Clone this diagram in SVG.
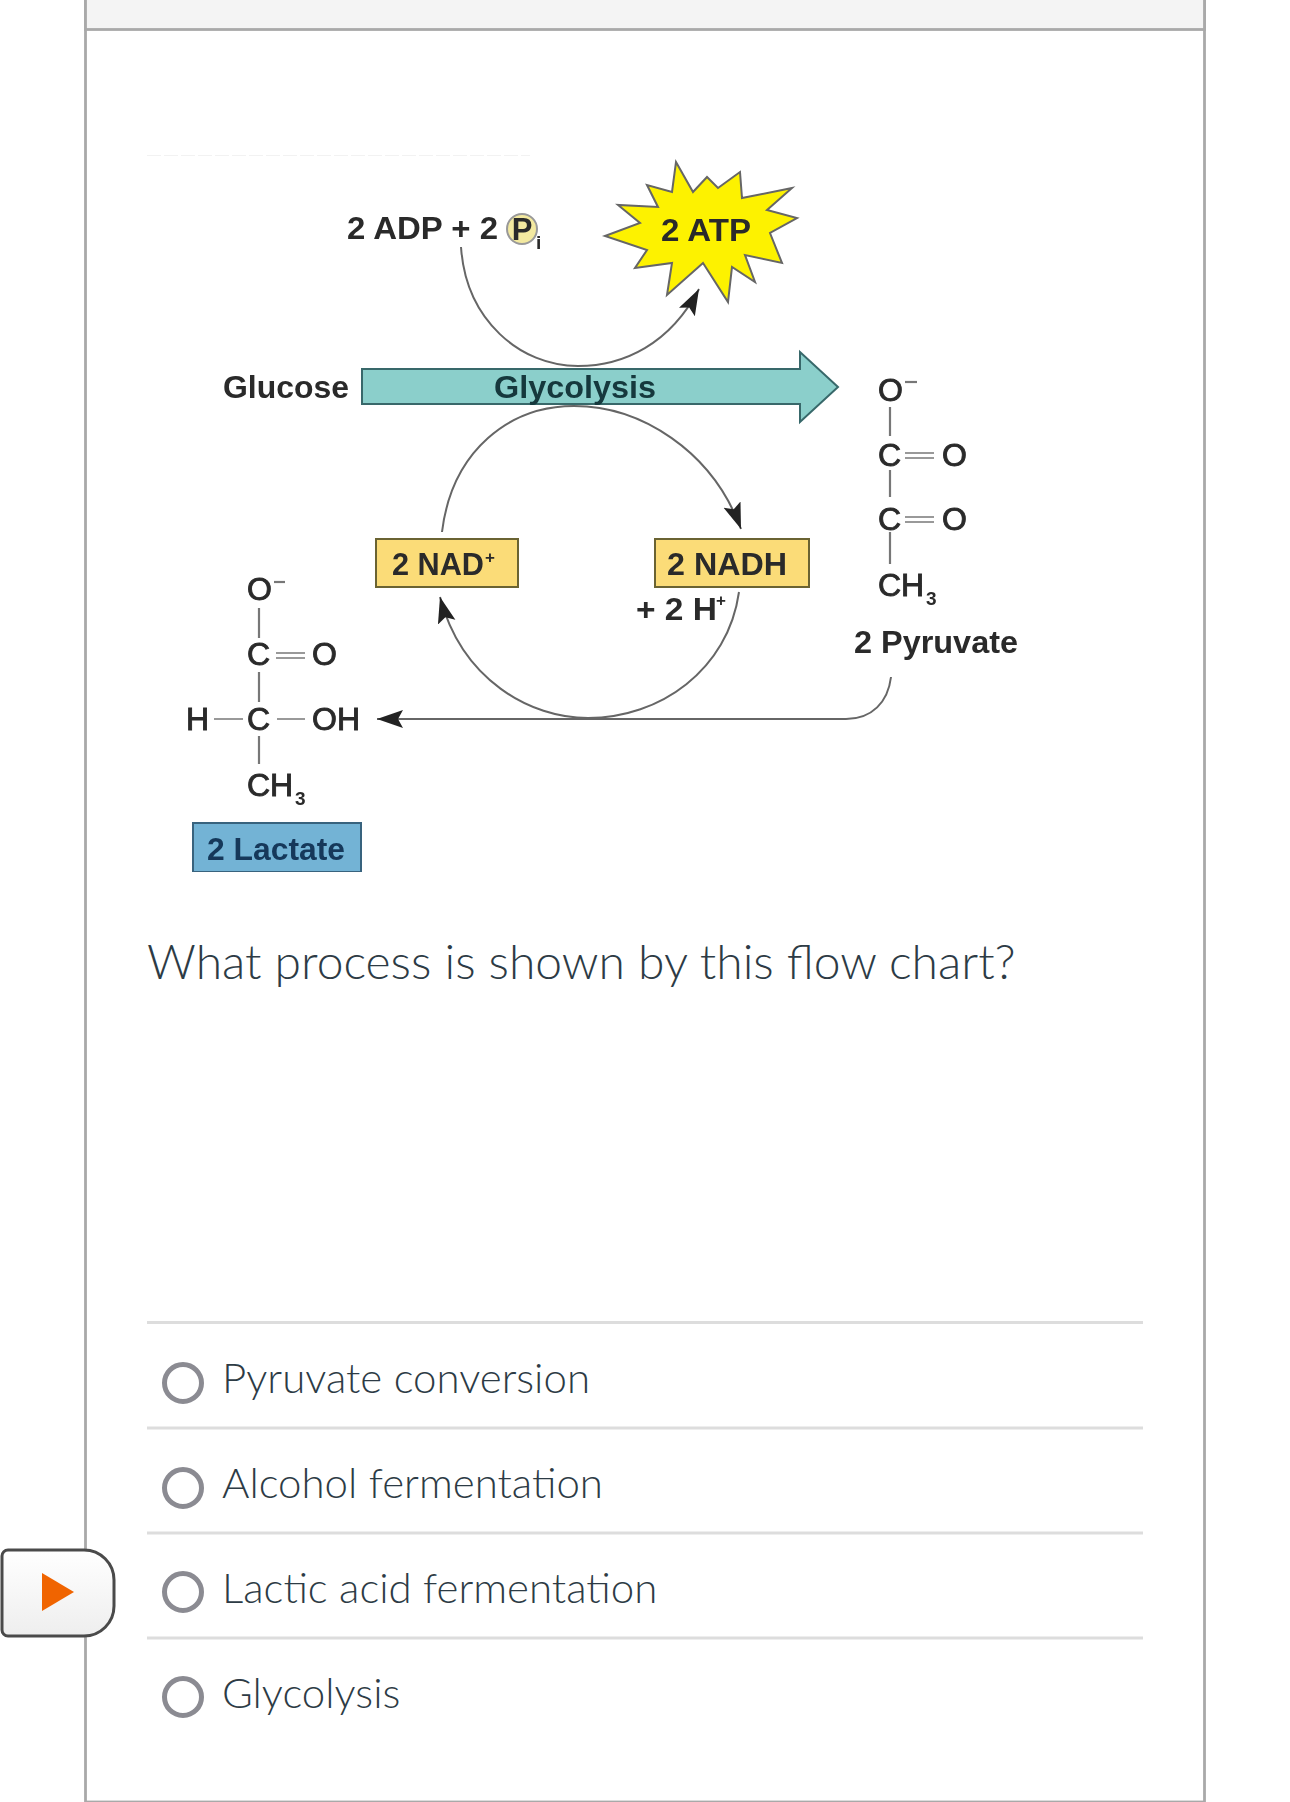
<svg xmlns="http://www.w3.org/2000/svg" width="1290" height="1802" viewBox="0 0 1290 1802">
<defs>
<marker id="ah" markerUnits="userSpaceOnUse" markerWidth="28" markerHeight="20" refX="26" refY="9" orient="auto"><path d="M0 0L26 9L0 18L5 9Z" fill="#222"/></marker>
<linearGradient id="btn" x1="0" y1="0" x2="0" y2="1"><stop offset="0" stop-color="#fff"/><stop offset="1" stop-color="#eee"/></linearGradient>
<filter id="soft" x="0" y="0" width="1" height="1"><feGaussianBlur stdDeviation="0.6"/></filter>
</defs>
<style>
text{font-family:"Liberation Sans",Arial,sans-serif}
.d{font-size:31px;font-weight:700;fill:#2a2a2a}
.m{font-size:32px;fill:#2a2a2a;stroke:#2a2a2a;stroke-width:.9px}
.sub{font-size:19px;font-weight:700;fill:#2a2a2a}
.sup{font-size:17px;font-weight:700;fill:#2a2a2a}
.q{font-family:Lato,"Liberation Sans",sans-serif;font-weight:300;fill:#2d3b45}
.bond{stroke:#777;stroke-width:2.2;fill:none}
.dbl{stroke:#999;stroke-width:2.2;fill:none}
.conn{stroke:#666;stroke-width:2;fill:none}
.sep{stroke:#ddd;stroke-width:3}
.radio{fill:#fff;stroke:#8b8b92;stroke-width:5}
.ybox{fill:#fbdc78;stroke:#6b6330;stroke-width:2}
</style>
<rect width="1290" height="1802" fill="#fff"/>
<g id="frame">
<rect x="85.5" y="-3" width="1119" height="1805" fill="#fff" stroke="#a9a9a9" stroke-width="2.8"/>
<rect x="85.5" y="-3" width="1119" height="32.5" fill="#f4f4f4" stroke="#a9a9a9" stroke-width="2.8"/>
</g>
<g id="diagram" filter="url(#soft)">
<path d="M147 155H530" stroke="#eee" stroke-width="1.5" stroke-dasharray="14 3" fill="none"/>
<g id="connectors">
<path class="conn" d="M461 247C466 320 520 366 578 366C624 366 670 344 699 289" marker-end="url(#ah)"/>
<path class="conn" d="M442 532C452 450 510 406 574 406C640 406 712 450 741 529" marker-end="url(#ah)"/>
<path class="conn" d="M739 592C728 670 660 718 588 718C530 718 462 680 440 597" marker-end="url(#ah)"/>
<path class="conn" d="M891 677C888 702 872 719 846 719H377" marker-end="url(#ah)"/>
</g>
<g id="glucose"><text class="d" x="223" y="398" textLength="126" lengthAdjust="spacingAndGlyphs">Glucose</text></g>
<g id="glycolysis">
<path d="M362 369H800V352L838 387L800 422V404H362Z" fill="#8bcfcb" stroke="#37686a" stroke-width="2"/>
<text class="d" x="494" y="398" style="fill:#12383c" textLength="162" lengthAdjust="spacingAndGlyphs">Glycolysis</text>
</g>
<g id="adp">
<text class="d" x="347" y="239" textLength="151" lengthAdjust="spacingAndGlyphs">2 ADP + 2</text>
<circle cx="522" cy="229" r="15" fill="#f3e9a0" stroke="#999" stroke-width="2"/>
<text class="d" x="522" y="240" text-anchor="middle">P</text>
<text class="sub" x="536" y="249">i</text>
</g>
<g id="atp">
<path d="M676 162L693 192L707 177L718 188L740 172L742 198L792 188L767 210L797 218L770 233L782 263L745 255L755 282L732 267L728 302L703 263L667 295L672 263L635 268L647 250L605 236L640 223L618 205L658 207L647 185L672 192Z" fill="#fdf200" stroke="#666" stroke-width="2"/>
<text class="d" x="661" y="241" textLength="90" lengthAdjust="spacingAndGlyphs">2 ATP</text>
</g>
<g id="nad">
<rect x="376" y="539" width="142" height="48" class="ybox"/>
<text class="d" x="392" y="575" textLength="92" lengthAdjust="spacingAndGlyphs">2 NAD</text>
<text class="sup" x="485" y="563">+</text>
</g>
<g id="nadh">
<rect x="655" y="539" width="154" height="48" class="ybox"/>
<text class="d" x="667" y="575" textLength="120" lengthAdjust="spacingAndGlyphs">2 NADH</text>
<text class="d" x="636" y="620" textLength="81" lengthAdjust="spacingAndGlyphs">+ 2 H</text>
<text class="sup" x="716" y="606">+</text>
</g>
<g id="pyruvate">
<text class="m" x="878" y="401">O</text><path class="bond" d="M905 382H917"/>
<path class="bond" d="M890 407V436M890 470V497M890 532V564"/>
<text class="m" x="878" y="466">C</text><path class="dbl" d="M905 453H934M905 458H934"/><text class="m" x="942" y="466">O</text>
<text class="m" x="878" y="530">C</text><path class="dbl" d="M905 517H934M905 522H934"/><text class="m" x="942" y="530">O</text>
<text class="m" x="878" y="596">CH</text><text class="sub" x="926" y="605">3</text>
<text class="d" x="854" y="653" textLength="164" lengthAdjust="spacingAndGlyphs">2 Pyruvate</text>
</g>
<g id="lactate">
<text class="m" x="247" y="600">O</text><path class="bond" d="M274 582H285"/>
<path class="bond" d="M259 608V638M259 672V702M259 736V764"/>
<path class="dbl" d="M214 719H243M277 719H305M276 653H305M276 658H305"/>
<text class="m" x="247" y="665">C</text><text class="m" x="312" y="665">O</text>
<text class="m" x="186" y="730">H</text><text class="m" x="247" y="730">C</text><text class="m" x="312" y="730">OH</text>
<text class="m" x="247" y="796">CH</text><text class="sub" x="295" y="805">3</text>
<rect x="193" y="823" width="168" height="49" fill="#73b3d5" stroke="#37647e" stroke-width="2"/>
<text class="d" x="207" y="860" style="fill:#12385a" textLength="138" lengthAdjust="spacingAndGlyphs">2 Lactate</text>
</g>
</g>
<g id="question"><text class="q" x="147" y="979" font-size="48">What process is shown by this flow chart?</text></g>
<g id="options">
<path class="sep" d="M147 1322.5H1143M147 1428H1143M147 1533H1143M147 1638H1143"/>
<circle class="radio" cx="183" cy="1383" r="18.5"/><text class="q" x="222" y="1393" font-size="42">Pyruvate conversion</text>
<circle class="radio" cx="183" cy="1488" r="18.5"/><text class="q" x="222" y="1498" font-size="42">Alcohol fermentation</text>
<circle class="radio" cx="183" cy="1592" r="18.5"/><text class="q" x="222" y="1603" font-size="42">Lactic acid fermentation</text>
<circle class="radio" cx="183" cy="1697" r="18.5"/><text class="q" x="222" y="1708" font-size="42">Glycolysis</text>
</g>
<g id="play">
<path d="M8 1550H84A30 30 0 0 1 114 1580V1606A30 30 0 0 1 84 1636H8A6 6 0 0 1 2 1630V1556A6 6 0 0 1 8 1550Z" fill="url(#btn)" stroke="#4a4a4a" stroke-width="3"/>
<path d="M42 1573L74 1592L42 1611Z" fill="#f06400"/>
</g>
</svg>
